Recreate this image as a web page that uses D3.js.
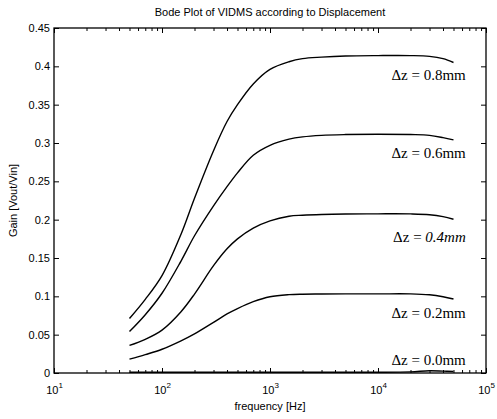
<!DOCTYPE html>
<html>
<head>
<meta charset="utf-8">
<script src="https://cdn.jsdelivr.net/npm/d3@7"></script>
<style>
  body { margin: 0; background: #fff; }
</style>
</head>
<body>
<div id="chart"></div>
<script>
// frequency points (Hz)
const freq = [50, 70, 100, 150, 200, 300, 400, 500, 700, 1000, 1500, 2000, 3000, 5000, 10000, 20000, 30000, 40000, 50000];

// gain for each displacement
const gain08 = [0.071, 0.096, 0.127, 0.181, 0.228, 0.290, 0.328, 0.350, 0.377, 0.396, 0.406, 0.410, 0.412, 0.4135, 0.414, 0.414, 0.413, 0.410, 0.405];
const gain06 = [0.054, 0.076, 0.104, 0.146, 0.179, 0.218, 0.243, 0.261, 0.284, 0.297, 0.305, 0.308, 0.310, 0.311, 0.3115, 0.311, 0.310, 0.307, 0.304];
const gain04 = [0.036, 0.044, 0.056, 0.080, 0.103, 0.140, 0.162, 0.175, 0.189, 0.1985, 0.2045, 0.2058, 0.2068, 0.2074, 0.2076, 0.2075, 0.2065, 0.204, 0.2005];
const gain02 = [0.018, 0.024, 0.031, 0.042, 0.051, 0.066, 0.077, 0.084, 0.093, 0.0995, 0.1022, 0.1028, 0.103, 0.1032, 0.1032, 0.1032, 0.102, 0.0995, 0.0965];
const gain00 = [0.001, 0.001, 0.001, 0.001, 0.001, 0.001, 0.001, 0.001, 0.001, 0.001, 0.001, 0.001, 0.001, 0.001, 0.001, 0.0015, 0.003, 0.0025, 0.002];

const seriesNames = ["0.8mm", "0.6mm", "0.4mm", "0.2mm", "0.0mm"];
const seriesGain = [gain08, gain06, gain04, gain02, gain00];
// label anchor positions (frequency, gain)
const labelFreq = 65000;
const labelGain = [0.382, 0.280, 0.171, 0.072, 0.010];

const xTicks = [10, 100, 1000, 10000, 100000];
const xExp = ["1", "2", "3", "4", "5"];
const yTicks = [0, 0.05, 0.1, 0.15, 0.2, 0.25, 0.3, 0.35, 0.4, 0.45];

const sans = "'Liberation Sans', Arial, sans-serif";
const serif = "'Liberation Serif', 'Times New Roman', serif";

const width = 497;
const height = 419;
const marginTop = 28;
const marginRight = 11;
const marginBottom = 46;
const marginLeft = 54;

const x = d3.scaleLog([10, 100000], [marginLeft, width - marginRight]);
const y = d3.scaleLinear([0, 0.45], [height - marginBottom, marginTop]);

const svg = d3.select("#chart").append("svg")
    .attr("width", width)
    .attr("height", height)
    .attr("viewBox", [0, 0, width, height])
    .attr("font-family", sans);

// minor ticks for the log axis
const minor = [];
for (let d = 10; d < 100000; d *= 10) {
  for (let k = 2; k <= 9; k++) minor.push(d * k);
}

function styleAxis(g) {
  g.select(".domain").remove();
  g.selectAll(".tick line").attr("stroke", "#000").attr("stroke-width", 1);
}

// bottom axis
svg.append("g")
    .attr("transform", `translate(0,${height - marginBottom})`)
    .call(d3.axisBottom(x).tickValues(xTicks).tickSize(-5).tickFormat(""))
    .call(styleAxis)
    .call(g => g.selectAll(".tick").append("text")
        .attr("y", 21)
        .attr("fill", "#000")
        .attr("font-size", 11)
        .attr("font-family", sans)
        .attr("text-anchor", "middle")
        .each(function(d, i) {
          const t = d3.select(this);
          t.append("tspan").text("10");
          t.append("tspan").attr("dy", -6).attr("font-size", 8).text(xExp[i]);
        }));
svg.append("g")
    .attr("transform", `translate(0,${height - marginBottom})`)
    .call(d3.axisBottom(x).tickValues(minor).tickSize(-3).tickFormat(""))
    .call(styleAxis);

// top axis
svg.append("g")
    .attr("transform", `translate(0,${marginTop})`)
    .call(d3.axisTop(x).tickValues(xTicks).tickSize(-5).tickFormat(""))
    .call(styleAxis);
svg.append("g")
    .attr("transform", `translate(0,${marginTop})`)
    .call(d3.axisTop(x).tickValues(minor).tickSize(-3).tickFormat(""))
    .call(styleAxis);

// left axis
svg.append("g")
    .attr("transform", `translate(${marginLeft},0)`)
    .call(d3.axisLeft(y).tickValues(yTicks).tickSize(-5).tickPadding(4).tickFormat(d => String(+d.toFixed(2))))
    .call(styleAxis)
    .call(g => g.selectAll(".tick text").attr("fill", "#000").attr("font-size", 11)
        .attr("font-family", sans));

// right axis
svg.append("g")
    .attr("transform", `translate(${width - marginRight},0)`)
    .call(d3.axisRight(y).tickValues(yTicks).tickSize(-5).tickFormat(""))
    .call(styleAxis);

// frame
svg.append("rect")
    .attr("x", marginLeft)
    .attr("y", marginTop)
    .attr("width", width - marginLeft - marginRight)
    .attr("height", height - marginTop - marginBottom)
    .attr("fill", "none")
    .attr("stroke", "#000")
    .attr("stroke-width", 1.3);

const line = d3.line()
    .x(d => x(d[0]))
    .y(d => y(d[1]))
    .curve(d3.curveCatmullRom.alpha(0.5));

seriesGain.forEach(function(g, i) {
  svg.append("path")
      .attr("fill", "none")
      .attr("stroke", "#000")
      .attr("stroke-width", 1.4)
      .attr("d", line(freq.map((f, j) => [f, g[j]])));

  const t = svg.append("text")
      .attr("x", x(labelFreq))
      .attr("y", y(labelGain[i]))
      .attr("text-anchor", "end")
      .attr("font-size", 15)
      .attr("font-family", serif)
      .attr("fill", "#000");
  t.append("tspan").text("\u0394z = ");
  t.append("tspan")
      .attr("font-style", seriesNames[i] === "0.4mm" ? "italic" : "normal")
      .text(seriesNames[i]);
});

// title
svg.append("text")
    .attr("x", (marginLeft + width - marginRight) / 2)
    .attr("y", 16)
    .attr("text-anchor", "middle")
    .attr("font-size", 11)
    .text("Bode Plot of VIDMS according to Displacement");

// x label
svg.append("text")
    .attr("x", (marginLeft + width - marginRight) / 2)
    .attr("y", 410)
    .attr("text-anchor", "middle")
    .attr("font-size", 11)
    .text("frequency [Hz]");

// y label
svg.append("text")
    .attr("transform", `translate(17,${(marginTop + height - marginBottom) / 2}) rotate(-90)`)
    .attr("text-anchor", "middle")
    .attr("font-size", 11)
    .text("Gain [Vout/Vin]");
</script>
</body>
</html>
